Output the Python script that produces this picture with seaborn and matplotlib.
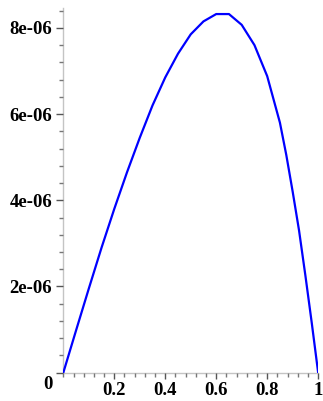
import numpy as np
import pandas as pd
import matplotlib
matplotlib.use("Agg")
import matplotlib.pyplot as plt
import seaborn as sns
from matplotlib.ticker import MultipleLocator, FixedLocator, FixedFormatter
from matplotlib.transforms import ScaledTranslation

# sampled curve
x_vals = [0.0, 0.05, 0.10, 0.15, 0.20, 0.25, 0.30, 0.35, 0.40, 0.45, 0.50,
          0.55, 0.60, 0.65, 0.70, 0.75, 0.80, 0.85, 0.875, 0.90, 0.925, 0.95,
          0.975, 1.0]
y_vals = [0.0, 0.98e-6, 1.95e-6, 2.9e-6, 3.8e-6, 4.65e-6, 5.45e-6, 6.2e-6,
          6.85e-6, 7.4e-6, 7.85e-6, 8.15e-6, 8.32e-6, 8.32e-6, 8.07e-6,
          7.6e-6, 6.88e-6, 5.8e-6, 5.05e-6, 4.2e-6, 3.3e-6, 2.25e-6,
          1.15e-6, 0.0]

x_ticks = [0.2, 0.4, 0.6, 0.8, 1.0]
x_tick_labels = ["0.2", "0.4", "0.6", "0.8", "1"]
y_ticks = [0.0, 2e-6, 4e-6, 6e-6, 8e-6]
y_tick_labels = ["0", "2e-06", "4e-06", "6e-06", "8e-06"]

sns.set_style("white")
plt.rcParams["font.family"] = ["Liberation Serif", "DejaVu Serif"]
plt.rcParams["font.weight"] = "bold"

fig = plt.figure(figsize=(3.23, 4.01), dpi=100)
ax = fig.add_axes([0.196, 0.0706, 0.789, 0.9094])

df = pd.DataFrame({"x": x_vals, "y": y_vals})
sns.lineplot(data=df, x="x", y="y", ax=ax, color="#0000ff", linewidth=1.6,
             sort=False, estimator=None)

ax.set_xlim(0, 1.0)
ax.set_ylim(0, 8.46e-6)
ax.set_xlabel("")
ax.set_ylabel("")

for side in ("top", "right"):
    ax.spines[side].set_visible(False)
for side in ("left", "bottom"):
    ax.spines[side].set_color("#c4c4c4")
    ax.spines[side].set_linewidth(1.0)
    ax.spines[side].set_zorder(0)

ax.xaxis.set_major_locator(FixedLocator(x_ticks))
ax.xaxis.set_major_formatter(FixedFormatter(x_tick_labels))
ax.xaxis.set_minor_locator(MultipleLocator(0.04))
ax.yaxis.set_major_locator(FixedLocator(y_ticks))
ax.yaxis.set_major_formatter(FixedFormatter(y_tick_labels))
ax.yaxis.set_minor_locator(MultipleLocator(0.4e-6))

ax.tick_params(axis="x", which="major", direction="out", length=4, width=1,
               color="#555555", pad=3, labelsize=13.5, labelcolor="black")
ax.tick_params(axis="x", which="minor", direction="out", length=3, width=1,
               color="#777777")
ax.tick_params(axis="y", which="major", direction="out", length=5, width=1,
               color="#555555", pad=3, labelsize=13.5, labelcolor="black")
ax.tick_params(axis="y", which="minor", direction="out", length=3, width=1,
               color="#777777")
ax.tick_params(bottom=True, left=True, which="both")

for lab in ax.get_xticklabels() + ax.get_yticklabels():
    lab.set_fontweight("bold")
    lab.set_color("black")

# origin label sits a little below the x-axis
zero_lab = ax.get_yticklabels()[0]
zero_lab.set_transform(zero_lab.get_transform() +
                       ScaledTranslation(0, -7 / 72, fig.dpi_scale_trans))

fig.savefig("out.png", dpi=100)
